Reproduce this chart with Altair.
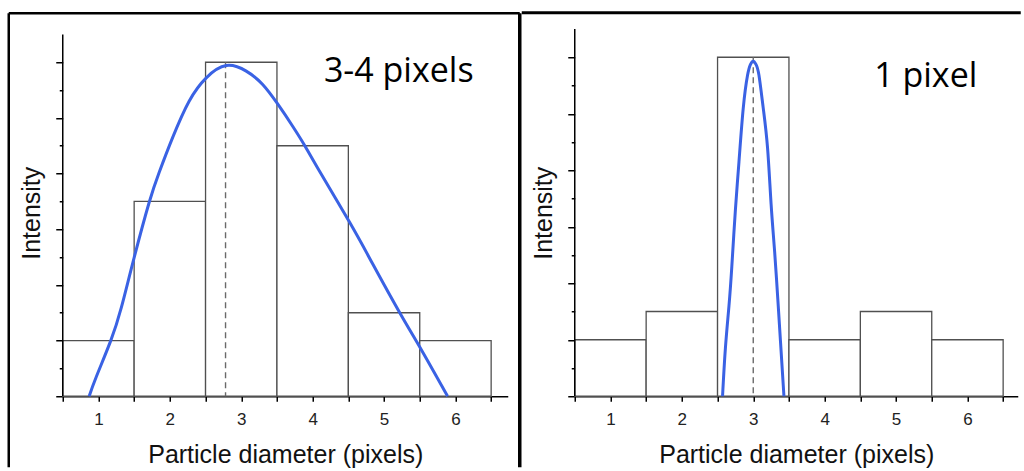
import altair as alt
import pandas as pd

# ---- data ----
bins = [1, 2, 3, 4, 5, 6]
left_heights = [1.0, 3.5, 6.0, 4.5, 1.5, 1.0]
right_heights = [1.0, 1.5, 6.0, 1.0, 1.5, 1.0]

left_curve_x = [0.87, 0.97, 1.17, 1.32, 1.50, 1.71, 1.85, 2.04, 2.27, 2.51, 2.79,
                3.07, 3.30, 3.51, 3.72, 3.89, 4.07, 4.52, 4.84, 5.22, 5.52, 5.89]
left_curve_y = [0.0, 0.35, 0.99, 1.59, 2.49, 3.48, 4.02, 4.65, 5.30, 5.72, 5.94,
                5.84, 5.60, 5.25, 4.85, 4.50, 4.10, 3.12, 2.38, 1.50, 0.84, 0.0]

right_curve_x = [2.57, 2.61, 2.66, 2.70, 2.75, 2.80, 2.86, 2.92, 2.96, 3.00,
                 3.04, 3.08, 3.14, 3.20, 3.25, 3.30, 3.35, 3.39, 3.43]
right_curve_y = [0.0, 0.85, 1.60, 2.30, 3.30, 4.15, 5.10, 5.68, 5.87, 5.93,
                 5.87, 5.68, 5.10, 4.40, 3.40, 2.55, 1.60, 0.80, 0.0]

left_peak = 2.78
right_peak = 3.0
peak_height = 6.0
axis_top = 6.5

left_label = "3-4 pixels"
right_label = "1 pixel"
x_title = "Particle diameter (pixels)"
y_title = "Intensity"

x_ticks = [0.5, 1.0, 1.5, 2.0, 2.5, 3.0, 3.5, 4.0, 4.5, 5.0, 5.5, 6.0, 6.5]
x_labels = ["", "1", "", "2", "", "3", "", "4", "", "5", "", "6", ""]
y_ticks = [0, 0.5, 1, 1.5, 2, 2.5, 3, 3.5, 4, 4.5, 5, 5.5, 6]

BLUE = "#3a62e4"
PLOT_H = 367
FONT = "Liberation Sans"

label_expr = "[" + ",".join("'%s'" % s for s in x_labels) + "][indexof(%s, datum.value)]" % (
    "[" + ",".join(str(v) for v in x_ticks) + "]")


def panel(heights, cx, cy, peak, label, width, y_max, x_max, text_xy, frames):
    xscale = alt.Scale(domain=[0.5, x_max], nice=False, zero=False)
    yscale = alt.Scale(domain=[0, y_max], nice=False, zero=False)
    xaxis = alt.Axis(values=x_ticks, labelExpr=label_expr,
                     labelFont=FONT, labelFontSize=17, labelColor="#222222",
                     tickSize=5, labelPadding=10, labelFlush=False, labelOverlap=False,
                     grid=False, titlePadding=15, title=x_title,
                     titleFont=FONT, titleFontSize=25, titleFontWeight="normal",
                     titleColor="#111111")
    yaxis = alt.Axis(values=y_ticks, labels=False, domain=False, grid=False,
                     tickSize={"condition": {"test": "datum.value % 1 == 0", "value": 7},
                               "value": 3.5},
                     titlePadding=11, title=y_title,
                     titleFont=FONT, titleFontSize=25, titleFontWeight="normal",
                     titleColor="#111111")

    X = lambda f: alt.X(f, scale=xscale, axis=xaxis)
    Y = lambda f: alt.Y(f, scale=yscale, axis=yaxis)

    bars_df = pd.DataFrame({"bin": bins, "h": heights})
    bars_df["x0"] = bars_df["bin"] - 0.5
    bars_df["x1"] = bars_df["bin"] + 0.5

    bars = alt.Chart(bars_df).mark_rect(fill="white", stroke="#505050", strokeWidth=1.3).encode(
        x=X("x0:Q"), x2="x1:Q", y=Y("h:Q"), y2=alt.datum(0))
    dash = alt.Chart(pd.DataFrame({"x": [peak], "y": [peak_height]})).mark_rule(
        color="#6a6a6a", strokeDash=[6, 4], strokeWidth=1.4).encode(
        x=X("x:Q"), y=Y("y:Q"), y2=alt.datum(0))
    curve = alt.Chart(pd.DataFrame({"x": cx, "y": cy})).mark_line(
        color=BLUE, strokeWidth=3, interpolate="natural").encode(
        x=X("x:Q"), y=Y("y:Q"))
    yline = alt.Chart(pd.DataFrame({"a": [0.0], "b": [axis_top]})).mark_rule(
        color="black", strokeWidth=1.5).encode(
        x=alt.value(0), y=Y("a:Q"), y2="b:Q")
    text = alt.Chart(pd.DataFrame({"t": [label]})).mark_text(
        font="Open Sans", fontSize=34, align="center", baseline="alphabetic",
        color="black").encode(text="t:N", x=alt.value(text_xy[0]), y=alt.value(text_xy[1]))

    layers = [bars, dash, curve, yline, text]
    for (fx, fx2, fy, fy2, sw) in frames:
        enc = {"x": alt.value(fx), "y": alt.value(fy)}
        if fx2 is not None:
            enc["x2"] = alt.value(fx2)
        if fy2 is not None:
            enc["y2"] = alt.value(fy2)
        layers.append(alt.Chart(pd.DataFrame({"k": [0]})).mark_rule(
            color="black", strokeWidth=sw).encode(**enc))
    return alt.layer(*layers).properties(width=width, height=PLOT_H)


left = panel(left_heights, left_curve_x, left_curve_y, left_peak, left_label,
             width=445, y_max=PLOT_H / 55.67, x_max=0.5 + 445 / 71.4,
             text_xy=(336, 53),
             frames=[(-54, None, -16, 438, 2.5),
                     (-54, 457, -16, None, 2.5),
                     (457, None, -16, 438, 3.5)])

right = panel(right_heights, right_curve_x, right_curve_y, right_peak, right_label,
              width=443, y_max=PLOT_H / 56.5, x_max=0.5 + 443 / 71.4,
              text_xy=(351, 58),
              frames=[(-53, 446, -16.5, None, 3)])

chart = alt.hconcat(left, right, spacing=-2).properties(
    padding={"left": 6.75, "top": 11.25, "right": 0, "bottom": 0},
    background="white",
).configure_view(stroke=None).configure_axis(
    domainColor="black", domainWidth=1.5, tickColor="black", tickWidth=1.5,
)

chart.save("out.html", embed_options={"renderer": "svg", "actions": False})
